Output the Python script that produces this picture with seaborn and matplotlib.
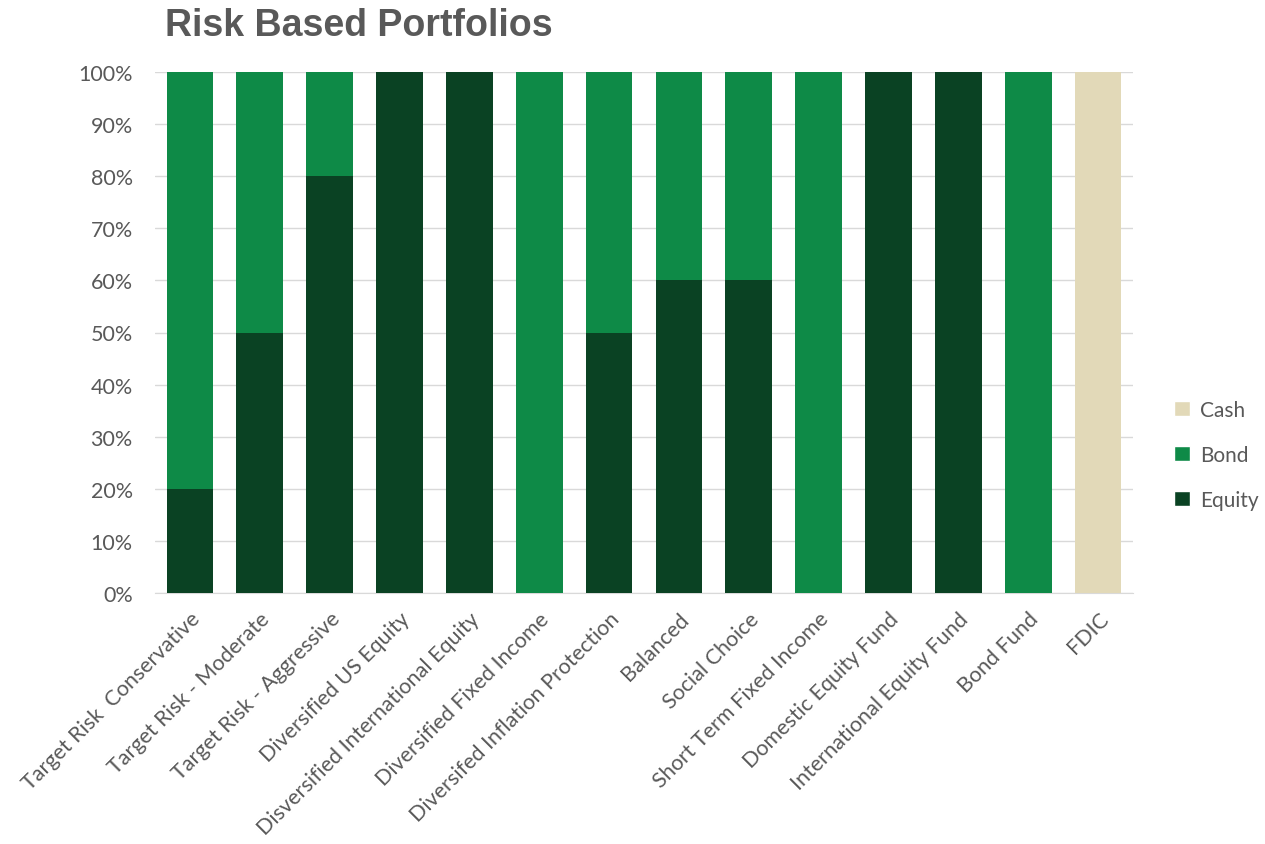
import matplotlib
matplotlib.use("Agg")
import matplotlib.pyplot as plt
import seaborn as sns
import pandas as pd
from matplotlib.patches import Patch
from matplotlib.ticker import PercentFormatter

# données du graphique
portfolios = [
    "Target Risk  Conservative", "Target Risk - Moderate", "Target Risk - Aggressive",
    "Diversified US Equity", "Disversified International Equity", "Diversified Fixed Income",
    "Diversifed Inflation Protection", "Balanced", "Social Choice",
    "Short Term Fixed Income", "Domestic Equity Fund", "International Equity Fund",
    "Bond Fund", "FDIC",
]
equity = [20, 50, 80, 100, 100, 0, 50, 60, 60, 0, 100, 100, 0, 0]
bond = [80, 50, 20, 0, 0, 100, 50, 40, 40, 100, 0, 0, 100, 0]
cash = [0, 0, 0, 0, 0, 0, 0, 0, 0, 0, 0, 0, 0, 100]

couleurs = {"Equity": "#0a4223", "Bond": "#0e8a47", "Cash": "#e2d9b8"}
gris = "#595959"


def main():
    sns.set_style("white")
    plt.rcParams["font.family"] = ["Lato", "DejaVu Sans"]

    df = pd.DataFrame({"portfolio": portfolios, "Equity": equity, "Bond": bond, "Cash": cash})
    df["bas_bond"] = df["Equity"]
    df["bas_cash"] = df["Equity"] + df["Bond"]

    fig = plt.figure(figsize=(12.65, 8.45), dpi=100)
    ax = fig.add_axes([155 / 1265, 1 - 594 / 845, 978 / 1265, 521 / 845])

    opts = dict(width=0.67, saturation=1, ax=ax, zorder=3, linewidth=0)
    sns.barplot(data=df, x="portfolio", y="Equity", color=couleurs["Equity"], **opts)
    sns.barplot(data=df, x="portfolio", y="Bond", bottom=df["bas_bond"], color=couleurs["Bond"], **opts)
    sns.barplot(data=df, x="portfolio", y="Cash", bottom=df["bas_cash"], color=couleurs["Cash"], **opts)

    ax.set_xlim(-0.5, len(portfolios) - 0.5)
    ax.set_ylim(0, 100)
    ax.set_yticks(range(0, 101, 10))
    ax.yaxis.set_major_formatter(PercentFormatter(decimals=0))
    ax.grid(axis="y", color="#d9d9d9", linewidth=1, zorder=0)
    ax.set_axisbelow(True)
    ax.set_xlabel("")
    ax.set_ylabel("")
    for s in ["top", "right", "left"]:
        ax.spines[s].set_visible(False)
    ax.spines["bottom"].set_color("#d9d9d9")
    ax.tick_params(axis="both", length=0, labelsize=15.5, labelcolor=gris)
    ax.tick_params(axis="y", pad=16)
    ax.tick_params(axis="x", pad=11)
    plt.setp(ax.get_xticklabels(), rotation=45, ha="right", rotation_mode="anchor")

    fig.text(165 / 1265, 1 - 26 / 845, "Risk Based Portfolios", fontsize=27, fontweight="bold",
             color=gris, family=["Liberation Sans", "DejaVu Sans"], va="center", ha="left")

    poignees = [Patch(facecolor=couleurs[k], label=k) for k in ["Cash", "Bond", "Equity"]]
    fig.legend(handles=poignees, loc="center left", bbox_to_anchor=(1174 / 1265, 1 - 456 / 845),
               frameon=False, fontsize=15, labelcolor=gris, handlelength=0.75, handleheight=0.75,
               handletextpad=0.5, labelspacing=1.2, borderpad=0, borderaxespad=0)

    fig.savefig("out.png", dpi=100)


if __name__ == "__main__":
    main()
